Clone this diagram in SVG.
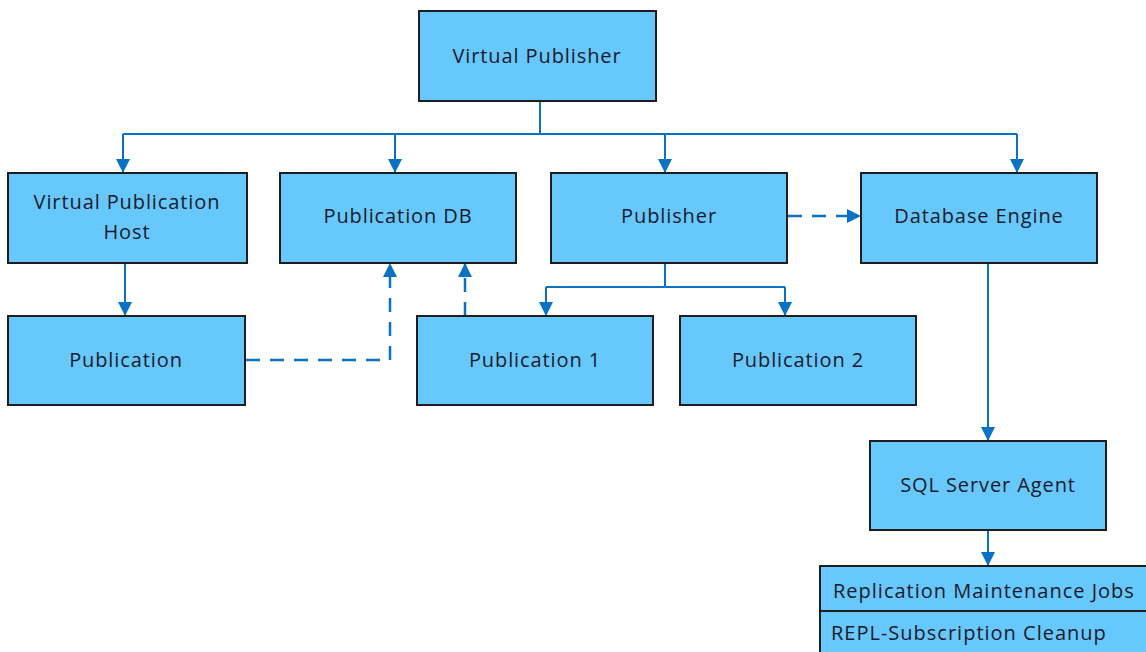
<svg xmlns="http://www.w3.org/2000/svg" width="1146" height="652" viewBox="0 0 1146 652">
<defs>
<style>
.box{fill:#66c8fc;stroke:#1e1e1e;stroke-width:2}
.t{font-family:"Open Sans","Noto Sans",sans-serif;font-size:20px;letter-spacing:0.9px;fill:#1a1a2a;text-anchor:middle}
.tl{font-family:"Open Sans","Noto Sans",sans-serif;font-size:20px;letter-spacing:1px;fill:#1a1a2a}
.c{fill:none;stroke:#0a72c4;stroke-width:2}
.d{fill:none;stroke:#0a72c4;stroke-width:2.5;stroke-dasharray:14,10}
</style>
<marker id="a" viewBox="0 0 10 10" refX="10" refY="5" markerWidth="14" markerHeight="14" markerUnits="userSpaceOnUse" orient="auto">
<path d="M0,0 L10,5 L0,10 z" fill="#0a72c4"/>
</marker>
</defs>
<rect width="1146" height="652" fill="#ffffff"/>
<g id="connectors">
<path class="c" d="M540,101 V134 M123,134 H1017"/>
<path class="c" d="M123,134 V173" marker-end="url(#a)"/>
<path class="c" d="M395,134 V173" marker-end="url(#a)"/>
<path class="c" d="M665,134 V173" marker-end="url(#a)"/>
<path class="c" d="M1017,134 V173" marker-end="url(#a)"/>
<path class="c" d="M125,263 V316" marker-end="url(#a)"/>
<path class="d" d="M246,360 H390 V263" marker-end="url(#a)"/>
<path class="d" d="M465,316 V263" marker-end="url(#a)"/>
<path class="c" d="M665,263 V287 M546,287 H785"/>
<path class="c" d="M546,287 V316" marker-end="url(#a)"/>
<path class="c" d="M785,287 V316" marker-end="url(#a)"/>
<path class="d" d="M788,216 H861" marker-end="url(#a)"/>
<path class="c" d="M988,263 V441" marker-end="url(#a)"/>
<path class="c" d="M988,530 V566" marker-end="url(#a)"/>
</g>
<g id="virtual-publisher"><rect class="box" x="419" y="11" width="237" height="90"/><text class="t" x="537" y="63">Virtual Publisher</text></g>
<g id="virtual-publication-host"><rect class="box" x="8" y="173" width="239" height="90"/><text class="t" x="127" y="209">Virtual Publication</text><text class="t" x="127" y="239">Host</text></g>
<g id="publication-db"><rect class="box" x="280" y="173" width="236" height="90"/><text class="t" x="398" y="223">Publication DB</text></g>
<g id="publisher"><rect class="box" x="551" y="173" width="236" height="90"/><text class="t" x="669" y="223">Publisher</text></g>
<g id="database-engine"><rect class="box" x="861" y="173" width="236" height="90"/><text class="t" x="979" y="223">Database Engine</text></g>
<g id="publication"><rect class="box" x="8" y="316" width="237" height="89"/><text class="t" x="126" y="367">Publication</text></g>
<g id="publication-1"><rect class="box" x="417" y="316" width="236" height="89"/><text class="t" x="535" y="367">Publication 1</text></g>
<g id="publication-2"><rect class="box" x="680" y="316" width="236" height="89"/><text class="t" x="798" y="367">Publication 2</text></g>
<g id="sql-server-agent"><rect class="box" x="870" y="441" width="236" height="89"/><text class="t" x="988" y="492">SQL Server Agent</text></g>
<g id="replication-maintenance-jobs"><rect class="box" x="820" y="566" width="340" height="100"/><line x1="820" y1="611" x2="1146" y2="611" stroke="#1e1e1e" stroke-width="2"/><text class="tl" x="833" y="598">Replication Maintenance Jobs</text><text class="tl" x="831" y="640">REPL-Subscription Cleanup</text></g>
</svg>
